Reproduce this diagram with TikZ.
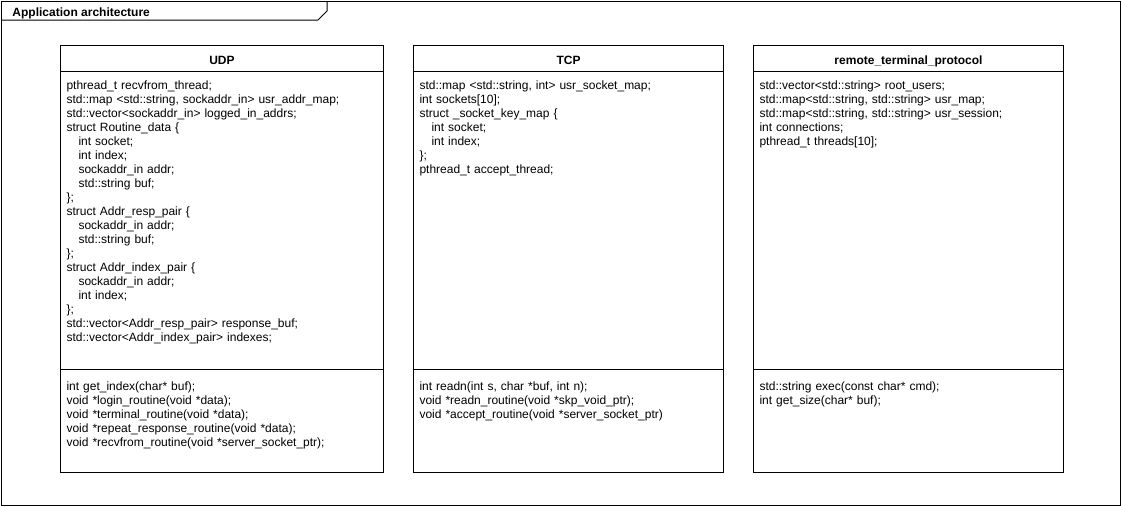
\documentclass[tikz,border=0pt]{standalone}
\usepackage{fontspec}
\setmainfont{Liberation Sans}
\usetikzlibrary{positioning}

\begin{document}
\begin{tikzpicture}[x=1pt,y=-1pt,line width=1pt,
  compartment/.style={draw=black,rectangle,inner sep=0pt,outer sep=0pt,anchor=north west},
  classname/.style={compartment,font=\fontsize{12}{14}\selectfont\bfseries,text height=11pt,text depth=0pt},
  members/.style={font=\fontsize{12}{14}\selectfont,anchor=north west,align=left,text width=300pt,inner sep=0pt,outer sep=0pt}]
\tikzstyle{every node}+=[inner sep=0pt]
\useasboundingbox (0,0) rectangle (1121,506);
\draw [black] (1,1) rectangle (1120,505);
\draw [black] (1,20) -- (318,20) -- (327,11) -- (327,1);
\node [anchor=base west, font=\fontsize{12}{14}\selectfont\bfseries] (title) at (12,16.5) {Application architecture};

% UDP
\node [classname, minimum width=323pt, minimum height=26pt] (udp) at (60.5,45.5) {UDP};
\node [compartment, below=0pt of udp, minimum width=323pt, minimum height=298pt] (udpattr) {};
\node [compartment, below=0pt of udpattr, minimum width=323pt, minimum height=103pt] (udpops) {};
\node [members, below right=7.7pt and 6pt of udpattr.north west] (udpattrtext) {\strut pthread\_t recvfrom\_thread;\\
std::map <std::string, sockaddr\_in> usr\_addr\_map;\\
std::vector<sockaddr\_in> logged\_in\_addrs;\\
struct Routine\_data \{\\
\hspace*{12pt}int socket;\\
\hspace*{12pt}int index;\\
\hspace*{12pt}sockaddr\_in addr;\\
\hspace*{12pt}std::string buf;\\
\};\\
struct Addr\_resp\_pair \{\\
\hspace*{12pt}sockaddr\_in addr;\\
\hspace*{12pt}std::string buf;\\
\};\\
struct Addr\_index\_pair \{\\
\hspace*{12pt}sockaddr\_in addr;\\
\hspace*{12pt}int index;\\
\};\\
std::vector<Addr\_resp\_pair> response\_buf;\\
std::vector<Addr\_index\_pair> indexes;};
\node [members, below right=11.2pt and 6pt of udpops.north west] (udpopstext) {\strut int get\_index(char* buf);\\
void *login\_routine(void *data);\\
void *terminal\_routine(void *data);\\
void *repeat\_response\_routine(void *data);\\
void *recvfrom\_routine(void *server\_socket\_ptr);};

% TCP
\node [classname, minimum width=310pt, minimum height=26pt] (tcp) at (413.5,45.5) {TCP};
\node [compartment, below=0pt of tcp, minimum width=310pt, minimum height=298pt] (tcpattr) {};
\node [compartment, below=0pt of tcpattr, minimum width=310pt, minimum height=103pt] (tcpops) {};
\node [members, below right=7.7pt and 6pt of tcpattr.north west] (tcpattrtext) {\strut std::map <std::string, int> usr\_socket\_map;\\
int sockets[10];\\
struct \_socket\_key\_map \{\\
\hspace*{12pt}int socket;\\
\hspace*{12pt}int index;\\
\};\\
pthread\_t accept\_thread;};
\node [members, below right=11.2pt and 6pt of tcpops.north west] (tcpopstext) {\strut int readn(int s, char *buf, int n);\\
void *readn\_routine(void *skp\_void\_ptr);\\
void *accept\_routine(void *server\_socket\_ptr)};

% remote_terminal_protocol
\node [classname, minimum width=310pt, minimum height=26pt] (rtp) at (753.5,45.5) {remote\_terminal\_protocol};
\node [compartment, below=0pt of rtp, minimum width=310pt, minimum height=298pt] (rtpattr) {};
\node [compartment, below=0pt of rtpattr, minimum width=310pt, minimum height=103pt] (rtpops) {};
\node [members, below right=7.7pt and 6pt of rtpattr.north west] (rtpattrtext) {\strut std::vector<std::string> root\_users;\\
std::map<std::string, std::string> usr\_map;\\
std::map<std::string, std::string> usr\_session;\\
int connections;\\
pthread\_t threads[10];};
\node [members, below right=11.2pt and 6pt of rtpops.north west] (rtpopstext) {\strut std::string exec(const char* cmd);\\
int get\_size(char* buf);};
\end{tikzpicture}
\end{document}
